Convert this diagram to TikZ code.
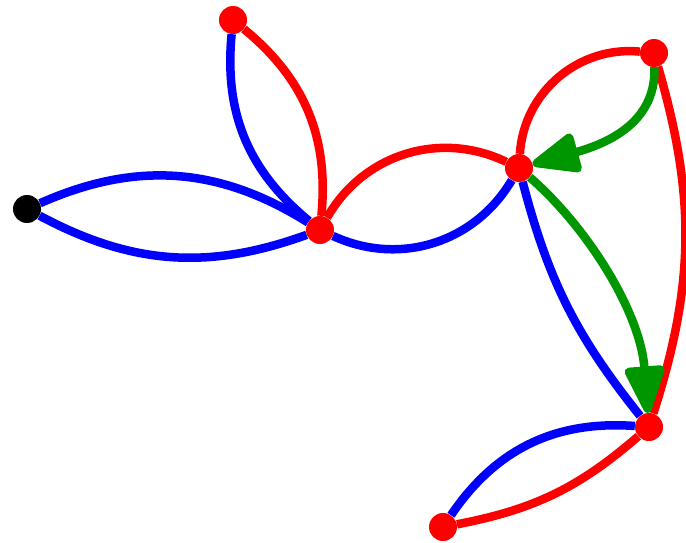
\documentclass[tikz,border=0pt]{standalone}
\usepackage{xcolor}
\usetikzlibrary{arrows.meta,backgrounds}

\begin{document}
\begin{tikzpicture}[x=1pt,y=-1pt]
% Multigraph with doubled edges drawn as opposite bends,
% two directed green edges on top.
\definecolor{vred}{RGB}{255, 0, 0}
\definecolor{eblue}{RGB}{0, 0, 255}
\definecolor{egreen}{RGB}{0, 150, 0}
\tikzset{
  vertex/.style={circle, fill=vred, inner sep=0pt, minimum size=28pt},
  link/.style={line width=8.5pt},
  dirlink/.style={link, draw=egreen, -{Triangle[length=54pt, width=42pt, round]}}
}
\useasboundingbox (0,0) rectangle (686,543);
\node[vertex, fill=black] (a) at (27,209) {};
\node[vertex] (b) at (233,20) {};
\node[vertex] (c) at (320,230) {};
\node[vertex] (d) at (519,168) {};
\node[vertex] (e) at (654,53) {};
\node[vertex] (f) at (649,427) {};
\node[vertex] (g) at (443,527) {};
\begin{scope}[on background layer]
  \draw[link, eblue] (a) to[bend left=28] (c);
  \draw[link, eblue] (a) to[bend right=24] (c);
  \draw[link, eblue] (b) to[bend right=28] (c);
  \draw[link, vred] (b) to[bend left=28] (c);
  \draw[link, vred] (c) to[bend left=43] (d);
  \draw[link, eblue] (c) to[bend right=42] (d);
  \draw[link, vred] (d) to[bend left=46] (e);
  \draw[link, eblue] (d) to[bend right=12] (f);
  \draw[link, vred] (e) to[bend left=17] (f);
  \draw[link, eblue] (f) to[bend right=30] (g);
  \draw[link, vred] (f) to[bend left=15] (g);
\end{scope}
\draw[dirlink] (e) .. controls (656,115) and (620,140) .. (d);
\draw[dirlink] (d) .. controls (585,225) and (640,310) .. (f);
\end{tikzpicture}
\end{document}
